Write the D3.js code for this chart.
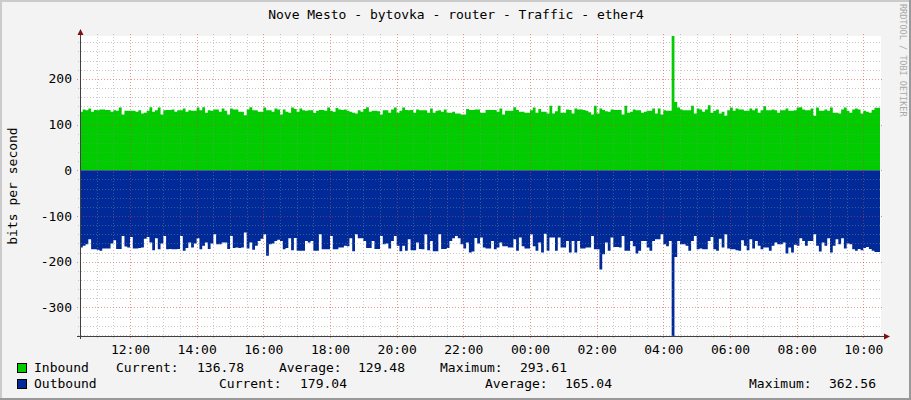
<!DOCTYPE html>
<html><head><meta charset="utf-8">
<script src="https://cdn.jsdelivr.net/npm/d3@7"></script>
<style>
body{margin:0;background:#f3f3f3}
svg{display:block}
text{font-family:"DejaVu Sans Mono",monospace;fill:#000}
</style>
</head><body>
<svg id="c" width="911" height="400"></svg>
<script>
// ---- data (5-minute samples, 10:30 -> 10:30) ----
const title = "Nove Mesto - bytovka - router - Traffic - ether4";
const yAxisLabel = "bits per second";
const watermark = "RRDTOOL / TOBI OETIKER";
const seriesNames = ["Inbound", "Outbound"];
const seriesColors = ["#00cc00", "#002a97"];
const inboundStats = [136.78, 129.48, 293.61];   // current, average, maximum
const outboundStats = [179.04, 165.04, 362.56];
const statLabels = ["Current:", "Average:", "Maximum:"];
const yTickValues = [-300, -200, -100, 0, 100, 200];

const inbound = [
128,133,131,135,128,132,131,133,133,132,
132,128,131,130,137,122,130,130,130,130,
128,131,124,126,130,138,128,131,137,122,
131,132,132,133,128,131,131,135,128,131,
130,130,137,131,138,126,131,130,133,133,
128,135,130,122,135,133,133,128,128,120,
133,138,131,131,128,128,137,131,131,128,
135,133,
122,133,128,126,137,134,128,135,131,130,
131,131,125,130,132,132,130,137,130,128,
136,133,132,133,130,128,126,124,131,128,
134,138,128,130,130,129,122,131,131,126,
133,137,126,130,137,132,131,132,126,133,
131,131,131,126,135,126,130,131,128,133,
126,126,128,124,124,122,122,134,132,132,
133,133,
126,126,132,132,132,132,128,135,122,130,
130,130,138,132,128,128,126,126,131,137,
126,134,128,128,124,141,124,129,141,126,
126,133,132,124,135,133,133,132,130,127,
122,141,124,135,132,129,128,133,132,132,
132,122,141,126,128,133,131,131,126,128,
130,130,135,124,135,122,131,130,130,293.61,
149,137,
133,131,131,131,141,124,135,133,128,133,
142,126,130,133,124,128,119,131,137,130,
135,133,133,130,130,135,131,135,126,131,
140,131,131,133,131,126,131,131,135,130,
130,131,137,138,133,131,131,135,119,137,
130,130,133,130,137,126,126,124,133,137,
130,126,133,135,133,124,130,128,126,132,
136.78,136.78
];

const outbound = [
169,165,162,151,173,173,174,176,171,171,
171,160,153,172,172,144,167,169,146,171,
171,170,169,150,146,158,175,149,173,160,
144,173,172,173,173,172,144,176,170,158,
169,160,149,173,165,158,172,160,140,162,
162,158,158,172,144,170,169,170,169,136,
171,158,174,165,155,150,140,187,162,160,
155,152,
155,173,170,149,175,148,176,176,176,155,
158,155,176,176,140,173,173,173,144,173,
173,169,169,165,166,149,177,140,149,149,
155,170,170,155,172,172,144,162,160,171,
155,144,165,177,165,176,151,175,175,158,
172,173,140,175,155,177,177,140,172,172,
170,155,149,144,149,162,171,158,180,178,
148,160,
147,169,171,171,155,173,169,158,166,166,
169,169,151,176,147,166,171,171,140,166,
176,158,180,139,176,147,147,176,147,169,
169,155,180,155,180,155,171,171,169,169,
144,173,173,217,184,158,176,147,168,168,
169,144,176,176,155,166,182,176,155,155,
169,176,155,151,151,140,162,166,155,362.56,
190,155,
162,162,165,176,155,144,173,171,173,173,
155,146,173,176,150,169,140,171,173,173,
175,176,153,165,175,151,171,155,165,173,
169,169,176,165,158,162,162,158,182,169,
180,163,165,149,155,165,155,155,140,165,
178,158,165,149,180,165,151,162,149,171,
160,162,173,176,172,175,170,168,172,176,
179.04,179.04
];

// ---- layout ----
const W = 911, H = 400;
const L = 80, R = 880, T = 36, B = 336;
const startTime = new Date(2024, 0, 1, 10, 30);
const endTime = new Date(2024, 0, 2, 10, 30);
const stepMs = 5 * 60 * 1000;

const svg = d3.select("#c");

// background & 3D border
svg.append("rect").attr("width", W).attr("height", H).attr("fill", "#f3f3f3");
svg.append("rect").attr("x", 0).attr("y", 0).attr("width", W).attr("height", 2).attr("fill", "#cbcbcb");
svg.append("rect").attr("x", 0).attr("y", 0).attr("width", 2).attr("height", H).attr("fill", "#cbcbcb");
svg.append("rect").attr("x", 0).attr("y", H - 2).attr("width", W).attr("height", 2).attr("fill", "#999");
svg.append("rect").attr("x", W - 2).attr("y", 0).attr("width", 2).attr("height", H).attr("fill", "#999");

const x = d3.scaleTime().domain([startTime, endTime]).range([L, R]);
const y = d3.scaleLinear().domain([-d3.max(outbound), d3.max(inbound)]).range([B, T]);

// canvas
svg.append("rect").attr("x", L).attr("y", T).attr("width", R - L + 1).attr("height", B - T).attr("fill", "#fff");

// areas (stepped)
function pts(arr, sign) {
  const p = arr.map((v, i) => ({t: new Date(startTime.getTime() + i * stepMs), v: sign * v}));
  p.push({t: new Date(startTime.getTime() + arr.length * stepMs), v: sign * arr[arr.length - 1]});
  return p;
}
const area = d3.area().curve(d3.curveStepAfter)
  .x(d => x(d.t)).y0(y(0)).y1(d => y(d.v));
svg.append("path").datum(pts(inbound, 1)).attr("d", area).attr("fill", seriesColors[0]);
svg.append("path").datum(pts(outbound, -1)).attr("d", area).attr("fill", seriesColors[1]);

// grid (drawn over data like rrdtool)
const g = svg.append("g").attr("shape-rendering", "crispEdges");
const [ymin, ymax] = y.domain();
d3.range(Math.ceil(ymin / 20) * 20, ymax + 0.001, 20).forEach(v => {
  const major = v % 100 === 0;
  g.append("line")
    .attr("x1", major ? L - 3 : L - 2).attr("x2", R + (major ? 3 : 2))
    .attr("y1", Math.round(y(v)) + 0.5).attr("y2", Math.round(y(v)) + 0.5)
    .attr("stroke", major ? "rgba(220,60,60,0.55)" : "rgba(140,140,140,0.45)")
    .attr("stroke-dasharray", "1,2");
});
d3.timeMinute.every(30).range(startTime, endTime).forEach(t => {
  const major = t.getMinutes() === 0 && t.getHours() % 2 === 0;
  const xx = Math.round(x(t)) + 0.5;
  g.append("line")
    .attr("x1", xx).attr("x2", xx)
    .attr("y1", T - 2).attr("y2", B + (major ? 3 : 2))
    .attr("stroke", major ? "rgba(220,60,60,0.55)" : "rgba(140,140,140,0.45)")
    .attr("stroke-dasharray", "1,2");
});

// axes lines
const axisColor = "#404040";
svg.append("line").attr("x1", L + 0.5).attr("x2", L + 0.5).attr("y1", T - 4).attr("y2", B + 3)
  .attr("stroke", axisColor).attr("shape-rendering", "crispEdges");
svg.append("line").attr("x1", L - 3).attr("x2", R + 4).attr("y1", B + 0.5).attr("y2", B + 0.5)
  .attr("stroke", axisColor).attr("shape-rendering", "crispEdges");
// arrows
svg.append("path").attr("d", `M${L - 2.5},${T - 1} L${L + 3.5},${T - 1} L${L + 0.5},${T - 7} Z`).attr("fill", "#7f1010");
svg.append("path").attr("d", `M${R + 4},${B - 2.5} L${R + 4},${B + 3.5} L${R + 10},${B + 0.5} Z`).attr("fill", "#7f1010");

// Y tick labels
const yAxis = d3.axisLeft(y).tickValues(yTickValues).tickSize(0).tickPadding(8).tickFormat(d3.format("d"));
const ya = svg.append("g").attr("transform", `translate(${L},0)`).call(yAxis);
ya.select(".domain").remove();
ya.selectAll("text").style("font-family", "DejaVu Sans Mono").style("font-size", "13px").attr("fill", "#000")
  .text(d => d < 0 ? "-" + Math.abs(d) : String(d));

// X tick labels
const xAxis = d3.axisBottom(x).ticks(d3.timeHour.every(2)).tickSize(0).tickPadding(9).tickFormat(d3.timeFormat("%H:%M"));
const xa = svg.append("g").attr("transform", `translate(0,${B})`).call(xAxis);
xa.select(".domain").remove();
xa.selectAll("text").style("font-family", "DejaVu Sans Mono").style("font-size", "13px").attr("fill", "#000");

// title
svg.append("text").attr("x", 456).attr("y", 19).attr("text-anchor", "middle")
  .style("font-size", "13px").text(title);

// y axis label
svg.append("text").attr("transform", `translate(17,${(T + B) / 2}) rotate(-90)`)
  .attr("text-anchor", "middle").style("font-size", "13px").text(yAxisLabel);

// watermark
svg.append("text").attr("transform", `translate(900,4) rotate(90)`)
  .style("font-size", "8.5px").style("fill", "#a8a8a8").text(watermark);

// legend
const rows = [
  {name: seriesNames[0], color: seriesColors[0], stats: inboundStats, yb: 372,
   lx: [116, 279, 440], vx: [197, 358, 520]},
  {name: seriesNames[1], color: seriesColors[1], stats: outboundStats, yb: 388,
   lx: [219, 485, 749], vx: [300, 565, 829]}
];
rows.forEach(r => {
  svg.append("rect").attr("x", 17.5).attr("y", r.yb - 8.5).attr("width", 9).attr("height", 9)
    .attr("fill", r.color).attr("stroke", "#000").attr("stroke-width", 1);
  svg.append("text").attr("x", 34).attr("y", r.yb).style("font-size", "13px").text(r.name);
  r.stats.forEach((v, i) => {
    svg.append("text").attr("x", r.lx[i]).attr("y", r.yb).style("font-size", "13px").text(statLabels[i]);
    svg.append("text").attr("x", r.vx[i]).attr("y", r.yb).style("font-size", "13px").text(v.toFixed(2));
  });
});
</script>
</body></html>
